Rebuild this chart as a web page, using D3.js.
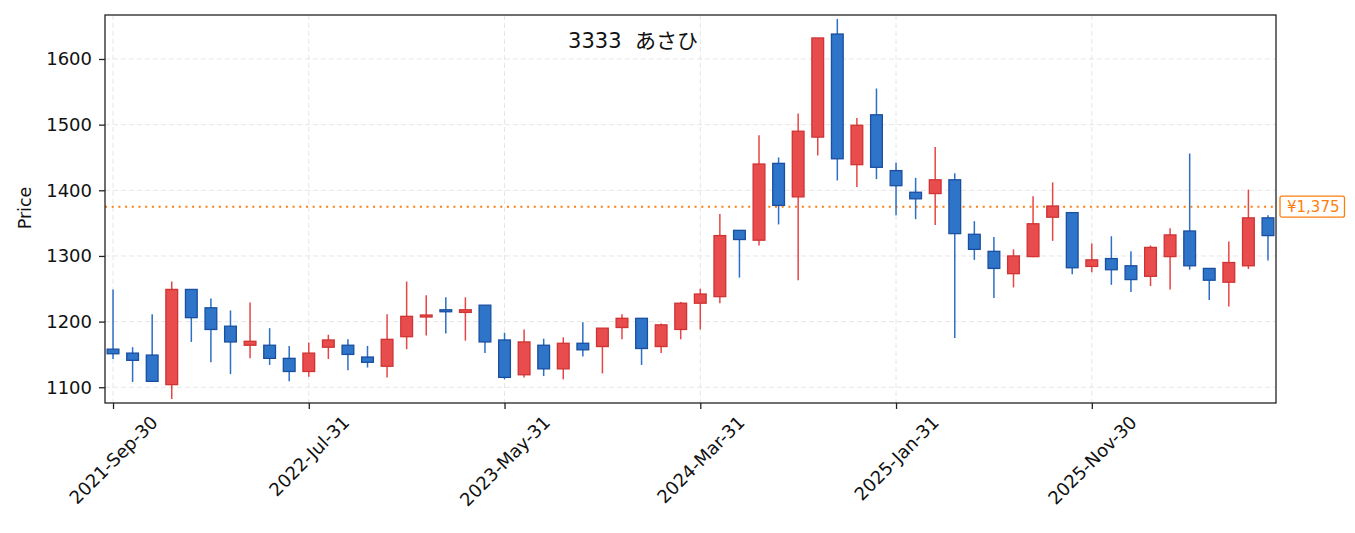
<!DOCTYPE html>
<meta charset="utf-8">
<script src="https://cdn.jsdelivr.net/npm/d3@7"></script>
<style>
    body { margin: 0; background: #fff; }
    text { font-family: "DejaVu Sans", "Noto Sans CJK JP", sans-serif; fill: #111; }
</style>
<body>
<script>
    var dates = [
        "2021-Sep-30", "2021-Oct-31", "2021-Nov-30", "2021-Dec-31",
        "2022-Jan-31", "2022-Feb-28", "2022-Mar-31", "2022-Apr-30", "2022-May-31", "2022-Jun-30",
        "2022-Jul-31", "2022-Aug-31", "2022-Sep-30", "2022-Oct-31", "2022-Nov-30", "2022-Dec-31",
        "2023-Jan-31", "2023-Feb-28", "2023-Mar-31", "2023-Apr-30", "2023-May-31", "2023-Jun-30",
        "2023-Jul-31", "2023-Aug-31", "2023-Sep-30", "2023-Oct-31", "2023-Nov-30", "2023-Dec-31",
        "2024-Jan-31", "2024-Feb-29", "2024-Mar-31", "2024-Apr-30", "2024-May-31", "2024-Jun-30",
        "2024-Jul-31", "2024-Aug-31", "2024-Sep-30", "2024-Oct-31", "2024-Nov-30", "2024-Dec-31",
        "2025-Jan-31", "2025-Feb-28", "2025-Mar-31", "2025-Apr-30", "2025-May-31", "2025-Jun-30",
        "2025-Jul-31", "2025-Aug-31", "2025-Sep-30", "2025-Oct-31", "2025-Nov-30", "2025-Dec-31",
        "2026-Jan-31", "2026-Feb-28", "2026-Mar-31", "2026-Apr-30", "2026-May-31", "2026-Jun-30",
        "2026-Jul-31", "2026-Aug-31"
    ];
    var open = [1158, 1152, 1149, 1104, 1249, 1221, 1193, 1164, 1164, 1144,
        1124, 1161, 1164, 1146, 1132, 1177, 1207, 1218, 1214, 1225,
        1172, 1119, 1164, 1128, 1167, 1162, 1191, 1205, 1162, 1188,
        1228, 1238, 1339, 1324, 1441, 1390, 1481, 1638, 1439, 1515,
        1430, 1397, 1395, 1416, 1333, 1307, 1273, 1299, 1359, 1366,
        1284, 1296, 1285, 1269, 1299, 1338, 1281, 1260, 1285, 1358];
    var high = [1249, 1161, 1211, 1261, 1249, 1235, 1217, 1229, 1190, 1163,
        1168, 1180, 1173, 1163, 1211, 1261, 1240, 1237, 1237, 1225,
        1183, 1188, 1174, 1176, 1199, 1190, 1211, 1205, 1197, 1230,
        1250, 1364, 1339, 1484, 1450, 1517, 1632, 1661, 1510, 1555,
        1442, 1419, 1466, 1426, 1353, 1329, 1310, 1391, 1412, 1366,
        1319, 1330, 1307, 1316, 1342, 1456, 1281, 1322, 1401, 1362];
    var low = [1143, 1108, 1108, 1082, 1169, 1138, 1120, 1144, 1134, 1109,
        1116, 1143, 1126, 1130, 1115, 1158, 1179, 1182, 1171, 1152,
        1112, 1115, 1117, 1112, 1147, 1121, 1173, 1134, 1152, 1173,
        1188, 1228, 1267, 1316, 1348, 1263, 1453, 1415, 1405, 1417,
        1362, 1356, 1347, 1175, 1294, 1236, 1252, 1298, 1323, 1272,
        1275, 1256, 1245, 1254, 1249, 1279, 1233, 1223, 1280, 1293];
    var close = [1151, 1141, 1109, 1249, 1206, 1188, 1169, 1170, 1144, 1124,
        1152, 1172, 1150, 1138, 1173, 1208, 1210, 1215, 1218, 1169,
        1115, 1169, 1128, 1167, 1157, 1190, 1205, 1159, 1195, 1228,
        1242, 1331, 1325, 1440, 1377, 1490, 1632, 1448, 1499, 1435,
        1407, 1387, 1416, 1334, 1310, 1281, 1300, 1349, 1376, 1282,
        1294, 1279, 1264, 1313, 1332, 1285, 1263, 1290, 1358, 1331];
    var yTicks = [1100, 1200, 1300, 1400, 1500, 1600];
    var xTickIdx = [0, 10, 20, 30, 40, 50];
    var lastPrice = 1375;
    var title = "3333  あさひ";

    var W = 1355, H = 533;
    var margin = { top: 15, right: 79, bottom: 130, left: 105 };
    var width = W - margin.left - margin.right,
        height = H - margin.top - margin.bottom;

    var svg = d3.select("body").append("svg")
        .attr("width", W)
        .attr("height", H);
    var g = svg.append("g")
        .attr("transform", "translate(" + margin.left + "," + margin.top + ")");

    var x = d3.scaleLinear().domain([-0.41, dates.length - 1 + 0.41]).range([0, width]);
    var y = d3.scaleLinear().domain([1076, 1667]).range([height, 0]);
    var step = x(1) - x(0);
    var bw = step * 0.6;

    // grid
    g.append("g").selectAll("line.hg")
        .data(yTicks).enter().append("line")
        .attr("x1", 0).attr("x2", width)
        .attr("y1", d => y(d)).attr("y2", d => y(d))
        .attr("stroke", "#e6e6e6").attr("stroke-width", 1)
        .attr("stroke-dasharray", "5,3");
    g.append("g").selectAll("line.vg")
        .data(xTickIdx).enter().append("line")
        .attr("x1", d => x(d)).attr("x2", d => x(d))
        .attr("y1", 0).attr("y2", height)
        .attr("stroke", "#e6e6e6").attr("stroke-width", 1)
        .attr("stroke-dasharray", "5,3");

    // price line
    g.append("line")
        .attr("x1", 0).attr("x2", width)
        .attr("y1", y(lastPrice)).attr("y2", y(lastPrice))
        .attr("stroke", "#ff7f0e").attr("stroke-width", 2)
        .attr("stroke-dasharray", "2,4.7");

    var idx = d3.range(dates.length);
    var up = i => close[i] >= open[i];

    // wicks
    g.append("g").selectAll("line")
        .data(idx).enter().append("line")
        .attr("x1", i => x(i)).attr("x2", i => x(i))
        .attr("y1", i => y(high[i])).attr("y2", i => y(low[i]))
        .attr("stroke", i => up(i) ? "#e64545" : "#2b6fc6")
        .attr("stroke-width", 1.5);

    // bodies
    g.append("g").selectAll("rect")
        .data(idx).enter().append("rect")
        .attr("x", i => x(i) - bw / 2)
        .attr("width", bw)
        .attr("y", i => y(Math.max(open[i], close[i])))
        .attr("height", i => Math.max(1, Math.abs(y(open[i]) - y(close[i]))))
        .attr("fill", i => up(i) ? "#e84c4c" : "#2e74c8")
        .attr("stroke", i => up(i) ? "#cf3333" : "#1a4fa0")
        .attr("stroke-width", 1.3);

    // axes
    var yAxis = g.append("g")
        .call(d3.axisLeft(y).tickValues(yTicks).tickSize(6).tickPadding(7).tickFormat(d3.format("d")));
    var xAxis = g.append("g")
        .attr("transform", "translate(0," + height + ")")
        .call(d3.axisBottom(x).tickValues(xTickIdx).tickSize(6).tickFormat(i => dates[i]));
    [yAxis, xAxis].forEach(function (a) {
        a.select(".domain").remove();
        a.selectAll(".tick line").attr("stroke", "#222").attr("stroke-width", 1.3);
        a.selectAll("text").style("font-size", "18px").attr("fill", "#111");
    });
    xAxis.selectAll("text").each(function () {
        var t = d3.select(this);
        var L = this.getComputedTextLength();
        var h = 20;
        var c = 9 + (L + h) / (2 * Math.SQRT2);
        t.attr("y", null).attr("dy", "0.35em")
            .attr("text-anchor", "middle")
            .attr("transform", "translate(0," + c + ") rotate(-45)");
    });

    // frame
    g.append("rect")
        .attr("width", width).attr("height", height)
        .attr("fill", "none").attr("stroke", "#222").attr("stroke-width", 1.3);

    // y label
    svg.append("text")
        .attr("transform", "translate(31,208) rotate(-90)")
        .attr("text-anchor", "middle")
        .style("font-size", "17.5px")
        .text("Price");

    // title
    svg.append("text")
        .attr("x", 633).attr("y", 48)
        .attr("text-anchor", "middle")
        .style("font-size", "21px")
        .style("white-space", "pre")
        .text(title);

    // price tag
    var tag = svg.append("g")
        .attr("transform", "translate(" + (margin.left + width + 4) + "," + (margin.top + y(lastPrice)) + ")");
    var tagText = tag.append("text")
        .attr("x", 7).attr("dy", "0.36em")
        .style("font-size", "15px")
        .style("fill", "#ff7f0e")
        .text("¥" + d3.format(",")(lastPrice));
    var tl = tagText.node().getComputedTextLength();
    tag.insert("rect", "text")
        .attr("x", 0).attr("y", -10.5)
        .attr("width", tl + 12).attr("height", 21)
        .attr("rx", 2)
        .attr("fill", "#fff")
        .attr("stroke", "#ff7f0e").attr("stroke-width", 1.3);
</script>
</body>
